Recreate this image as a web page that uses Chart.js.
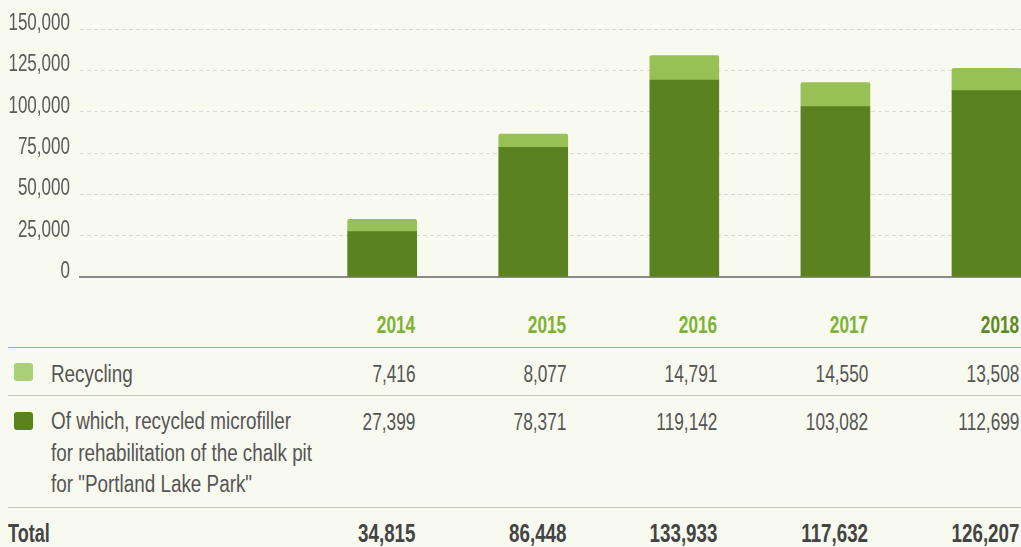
<!DOCTYPE html>
<html>
<head>
<meta charset="utf-8">
<script src="https://cdn.jsdelivr.net/npm/chart.js@4/dist/chart.umd.min.js"></script>
<style>
  html, body { margin: 0; padding: 0; background: #f8f9ef; }
  #wrap { position: relative; width: 1021px; height: 547px; overflow: hidden; background: #f8f9ef;
          font-family: "Liberation Sans", Arial, sans-serif; }
  #chartBox { position: absolute; left: 0; top: 0; width: 1021px; height: 290px; }
  .t { position: absolute; white-space: nowrap; font-size: 23px; line-height: 32px; color: #555; }
  .l { transform-origin: left center; transform: scaleX(0.82); }
  .l.tot { transform: scaleX(0.72); }
  .r { transform-origin: right center; transform: scaleX(0.75); text-align: right; }
  .hd { font-weight: bold; color: #7db334; }
  .hd.last { color: #5b8a22; }
  .tot { font-weight: bold; color: #444; }
  .line { position: absolute; left: 8px; right: 0; height: 1px; }
  .sw { position: absolute; left: 14px; width: 19px; height: 18px; border-radius: 3px; }
</style>
</head>
<body>
<div id="wrap">
  <div id="chartBox"><canvas id="c"></canvas></div>
  <div id="table"></div>
</div>
<script>
const years = [2014, 2015, 2016, 2017, 2018];
const recycling = [7416, 8077, 14791, 14550, 13508];
const microfiller = [27399, 78371, 119142, 103082, 112699];
const totals = [34815, 86448, 133933, 117632, 126207];
const yTickValues = [0, 25000, 50000, 75000, 100000, 125000, 150000];
const seriesNames = ['Recycling', 'Of which, recycled microfiller\nfor rehabilitation of the chalk pit\nfor "Portland Lake Park"'];
const totalLabel = 'Total';

const DARK = '#5a8220';
const LIGHT = '#98c155';

const fmt = v => v.toLocaleString('en-US');

const yLabelsPlugin = {
  id: 'yLabels',
  afterDraw(chart) {
    const s = chart.scales.y;
    const ctx = chart.ctx;
    ctx.save();
    ctx.font = '24px "Liberation Sans", Arial, sans-serif';
    ctx.fillStyle = '#5a5a5a';
    ctx.textAlign = 'right';
    ctx.textBaseline = 'alphabetic';
    yTickValues.forEach(v => {
      const y = s.getPixelForValue(v);
      ctx.save();
      ctx.translate(70, y + 1);
      ctx.scale(0.71, 1);
      ctx.fillText(fmt(v), 0, 0);
      ctx.restore();
    });
    ctx.restore();
  }
};

const chart = new Chart(document.getElementById('c'), {
  type: 'bar',
  data: {
    datasets: [
      {
        label: 'microfiller',
        data: years.map((yr, i) => ({ x: yr, y: microfiller[i] })),
        backgroundColor: DARK,
        barThickness: 69,
        borderSkipped: false,
        borderRadius: 0
      },
      {
        label: 'recycling',
        data: years.map((yr, i) => ({ x: yr, y: recycling[i] })),
        backgroundColor: LIGHT,
        barThickness: 69,
        borderRadius: { topLeft: 2, topRight: 2, bottomLeft: 0, bottomRight: 0 },
        borderSkipped: false
      }
    ]
  },
  options: {
    responsive: true,
    maintainAspectRatio: false,
    animation: false,
    layout: { padding: { top: 29, bottom: 13, left: 0, right: 0 } },
    plugins: { legend: { display: false }, tooltip: { enabled: false } },
    scales: {
      x: {
        type: 'linear',
        stacked: true,
        offset: false,
        min: 2012,
        max: 2018.2285,
        ticks: { display: false },
        grid: { display: false, drawTicks: false },
        border: { display: true, color: '#8a8a8a', width: 2 },
        afterFit: s => { s.height = 0; }
      },
      y: {
        stacked: true,
        min: 0,
        max: 150000,
        ticks: { display: false, stepSize: 25000 },
        grid: { color: '#d9d9d9', lineWidth: 1, drawTicks: false },
        border: { display: false, dash: [4, 3] },
        afterFit: s => { s.width = 80; }
      }
    }
  },
  plugins: [yLabelsPlugin]
});

// Table below chart
const table = document.getElementById('table');
const xs = chart.scales.x;
const colRight = years.map(yr => xs.getPixelForValue(yr) + 33);
function addText(txt, cls, baseline, opts) {
  const d = document.createElement('div');
  d.className = 't ' + cls;
  d.textContent = txt;
  const size = opts.size || 23;
  const lh = opts.lh || 32;
  const asc = 0.905 * size, desc = 0.212 * size;
  d.style.fontSize = size + 'px';
  d.style.lineHeight = lh + 'px';
  d.style.top = (baseline - ((lh - asc - desc) / 2 + asc)) + 'px';
  if (opts.right !== undefined) d.style.right = (1021 - opts.right) + 'px';
  if (opts.left !== undefined) d.style.left = opts.left + 'px';
  if (opts.pre) d.style.whiteSpace = 'pre';
  table.appendChild(d);
}
function addLine(y, color) {
  const d = document.createElement('div');
  d.className = 'line';
  d.style.top = y + 'px';
  d.style.background = color;
  table.appendChild(d);
}
function addSwatch(y, color) {
  const d = document.createElement('div');
  d.className = 'sw';
  d.style.top = y + 'px';
  d.style.background = color;
  table.appendChild(d);
}
years.forEach((yr, i) => {
  addText(String(yr), 'r hd' + (i === years.length - 1 ? ' last' : ''), 333, { right: colRight[i] });
  addText(fmt(recycling[i]), 'r', 381.5, { right: colRight[i] });
  addText(fmt(microfiller[i]), 'r', 430, { right: colRight[i] });
  addText(fmt(totals[i]), 'r tot', 541.5, { right: colRight[i], size: 25 });
});
addLine(347, '#8fc156');
addLine(395, '#c2c2c2');
addLine(507, '#c2c2c2');
addSwatch(363, '#a9cf79');
addSwatch(411.5, DARK);
addText(seriesNames[0], 'l', 381.5, { left: 51 });
addText(seriesNames[1], 'l', 430, { left: 51, lh: 31.5, pre: true });
addText(totalLabel, 'l tot', 541.5, { left: 8, size: 25 });
</script>
</body>
</html>
